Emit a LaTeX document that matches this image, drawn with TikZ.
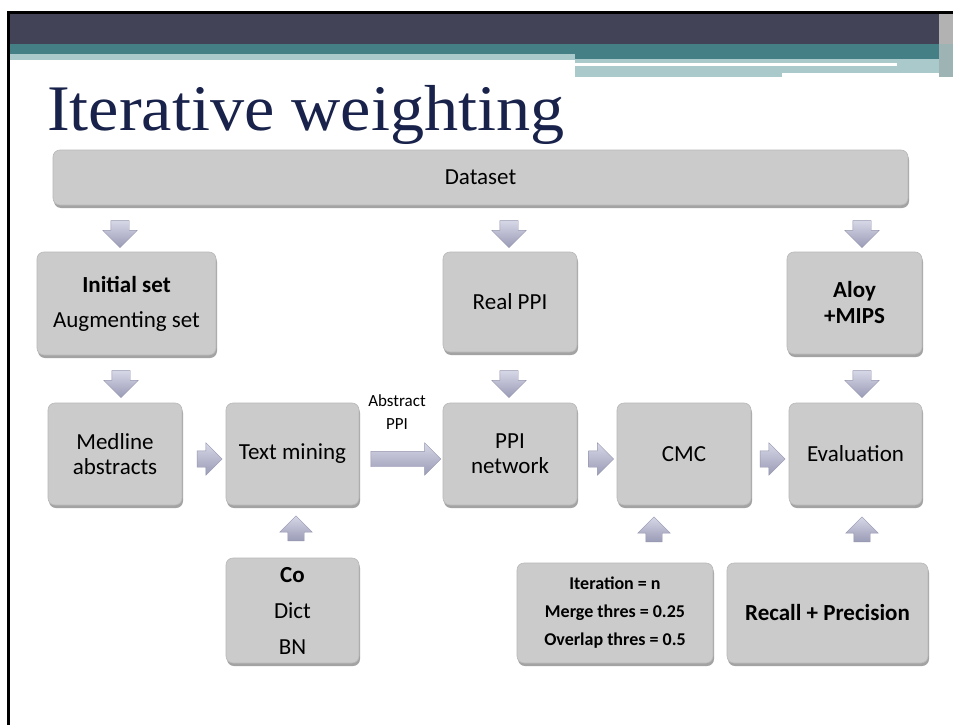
\documentclass[tikz,border=0pt]{standalone}
\usepackage{fontspec}
\setmainfont{Carlito}
\newfontfamily\titlefont{Liberation Serif}
\usetikzlibrary{shapes.arrows,shadows,calc}
\definecolor{darkbar}{HTML}{424357}
\definecolor{tealbar}{HTML}{437F85}
\definecolor{lightbar}{HTML}{A9C9CB}
\definecolor{titleblue}{HTML}{18224A}
\definecolor{boxgray}{HTML}{CBCBCB}
\definecolor{boxedge}{HTML}{B8B8B8}
\definecolor{arrlight}{HTML}{D6D7E6}
\definecolor{arrdark}{HTML}{9A9BB6}
\definecolor{arredge}{HTML}{9495AE}
\tikzset{
  box/.style={rounded corners=7pt, fill=boxgray, draw=boxedge, line width=0.6pt,
    align=center, inner sep=0pt,
    drop shadow={shadow xshift=1pt, shadow yshift=-3pt, opacity=0.55, fill=black!65},
    font=\fontsize{23}{27}\selectfont},
  blockarrow/.style={shape=single arrow, single arrow head extend=8pt,
    single arrow head indent=0pt, inner xsep=0pt, inner ysep=9pt,
    top color=arrlight, bottom color=arrdark, draw=arredge, line width=0.4pt},
  darr/.style={blockarrow, rotate=-90, minimum height=27pt},
  uarr/.style={blockarrow, rotate=90, minimum height=25pt, inner ysep=8pt},
  rarr/.style={blockarrow, minimum height=25pt, inner ysep=8pt},
}
\begin{document}
\begin{tikzpicture}[x=1pt,y=-1pt]
\useasboundingbox (0,0) rectangle (953,725);
\fill[white] (0,0) rectangle (953,725);
% header bars
\fill[darkbar] (9,13) rectangle (953,44);
\fill[tealbar] (9,44) rectangle (575,54);
\fill[tealbar] (575,44) rectangle (939,59);
\fill[lightbar] (9,54) rectangle (575,60);
\fill[lightbar] (575,59) rectangle (939,77);
\fill[white] (575,63.5) rectangle (897,66.5);
\fill[white] (782,73.5) rectangle (939,77);
\fill[gray!60] (939,13) rectangle (953,44);
\fill[lightbar!70!gray] (939,44) rectangle (953,77);
\draw[black, line width=2.6pt] (8.5,725) -- (8.5,12.5) -- (953,12.5);
% title
\node[anchor=base west, inner sep=0pt, text=titleblue,
      font=\titlefont\fontsize{65}{70}\selectfont] (title) at (47,130)
  {\scalebox{1.05}[1]{Iterative weighting}};
% boxes
\node[box, minimum width=855pt, minimum height=55pt] (ds) at (480.5,177.5) {Dataset};
\node[box, minimum width=179pt, minimum height=103pt,
      font=\fontsize{23}{35}\selectfont] (ini) at (126.5,303.5)
  {\textbf{Initial set}\\Augmenting set};
\node[box, minimum width=134pt, minimum height=100pt] (real) at (510,302) {Real PPI};
\node[box, minimum width=135pt, minimum height=102pt,
      font=\bfseries\fontsize{23}{26}\selectfont] (aloy) at (854.5,303) {Aloy\\+MIPS};
\node[box, minimum width=134pt, minimum height=102pt,
      font=\fontsize{23}{25}\selectfont] (med) at (115,454) {Medline\\abstracts};
\node[box, minimum width=133pt, minimum height=102pt] (tm) at (292.5,454) {Text mining};
\node[box, minimum width=134pt, minimum height=102pt,
      font=\fontsize{23}{25}\selectfont] (ppi) at (510,454) {PPI\\network};
\node[box, minimum width=134pt, minimum height=102pt] (cmc) at (684,454) {CMC};
\node[box, minimum width=133pt, minimum height=102pt] (ev) at (855.5,454) {Evaluation};
\node[box, minimum width=133pt, minimum height=105pt,
      font=\fontsize{23}{36}\selectfont] (co) at (292.5,610.5)
  {\textbf{Co}\\Dict\\BN};
\node[box, minimum width=196pt, minimum height=100pt,
      font=\bfseries\fontsize{18}{28}\selectfont] (par) at (615,613)
  {Iteration = n\\Merge thres = 0.25\\Overlap thres = 0.5};
\node[box, minimum width=201pt, minimum height=100pt,
      font=\bfseries\fontsize{23}{27}\selectfont] (rec) at (827.5,613)
  {Recall + Precision};
% block arrows
\node[darr] (a1) at (120,229.5) {};
\node[darr] (a2) at (509,229.5) {};
\node[darr] (a3) at (862,229.5) {};
\node[darr] (a4) at (121,379.5) {};
\node[darr] (a5) at (509,379.5) {};
\node[darr] (a6) at (862,379.5) {};
\node[rarr] (a7) at (205.5,459) {};
\node[rarr, minimum height=70pt, inner ysep=7.5pt, single arrow head extend=8.5pt] (a8) at (402,459) {};
\node[rarr] (a9) at (597,459) {};
\node[rarr] (a10) at (768.5,459) {};
\node[uarr] (a11) at (296,532.5) {};
\node[uarr] (a12) at (654,533.5) {};
\node[uarr] (a13) at (862,533.5) {};
\node[align=center, font=\fontsize{17}{23}\selectfont] (lab) at (397,412) {Abstract\\PPI};
\end{tikzpicture}
\end{document}
